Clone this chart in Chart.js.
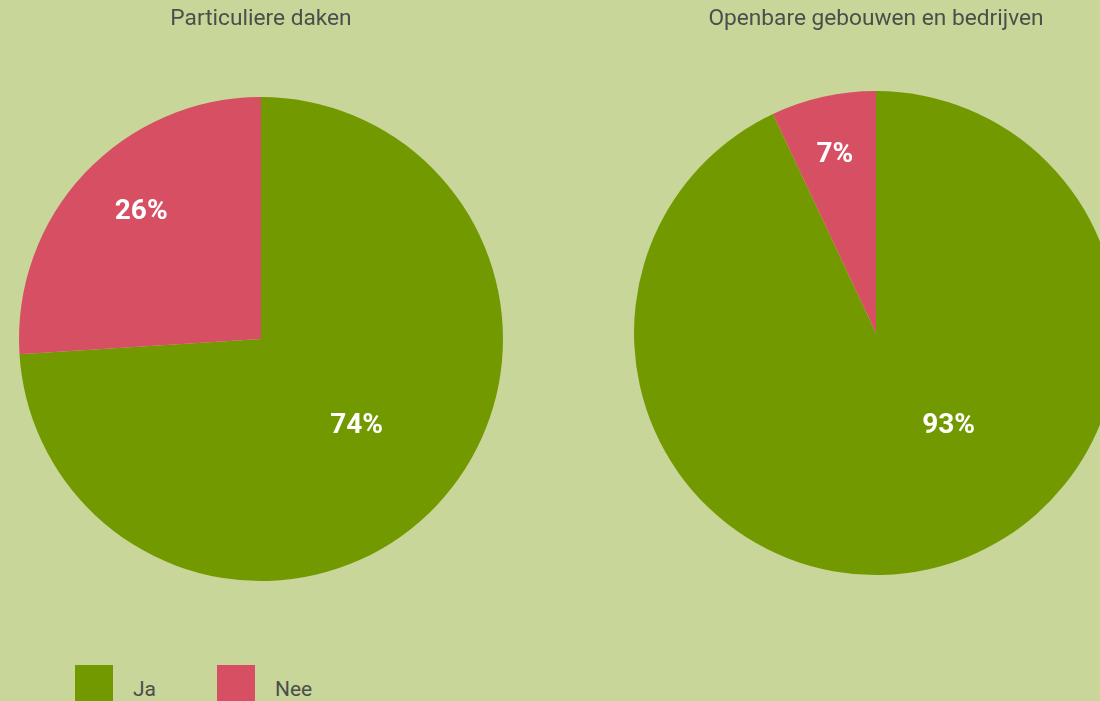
<!DOCTYPE html>
<html>
<head>
<meta charset="utf-8">
<script src="https://cdn.jsdelivr.net/npm/chart.js@4.4.1/dist/chart.umd.min.js"></script>
<style>
  html, body { margin: 0; padding: 0; width: 1100px; height: 701px; overflow: hidden; background: #c8d69a; }
  canvas { position: absolute; }
  #c1 { left: 9px; top: 0; }
  #c2 { left: 634px; top: 0; }
  .legend { position: absolute; top: 665px; left: 75px; font-family: Roboto, sans-serif; font-size: 21px; color: #4b4f4b; }
  .item { position: absolute; top: 0; white-space: nowrap; }
  .swatch { position: absolute; top: 0; width: 38px; height: 38px; }
  .txt { position: absolute; top: 12px; }
</style>
</head>
<body>
<canvas id="c1" width="494" height="581"></canvas>
<canvas id="c2" width="484" height="575"></canvas>
<div class="legend" id="legend"></div>
<script>
// Answer categories shared by both pies
const categories = ['Ja', 'Nee'];
// Share of respondents per group (percent)
const particuliereValues = [74, 26];
const openbareValues = [93, 7];
const chartTitles = ['Particuliere daken', 'Openbare gebouwen en bedrijven'];
const sliceColors = ['#739900', '#d64f63'];

const FONT = 'Roboto, "DejaVu Sans", sans-serif';

// Percentage labels, placed relative to the pie centre in units of the radius
const pctLabels = {
  id: 'pctLabels',
  afterDatasetsDraw(chart, args, opts) {
    const ctx = chart.ctx;
    const meta = chart.getDatasetMeta(0);
    const data = chart.data.datasets[0].data;
    ctx.save();
    ctx.fillStyle = '#ffffff';
    ctx.font = 'bold 28px ' + FONT;
    ctx.textAlign = 'center';
    ctx.textBaseline = 'middle';
    meta.data.forEach((arc, i) => {
      const p = arc.getProps(['x', 'y', 'outerRadius'], true);
      const o = opts.offsets[i];
      ctx.fillText(data[i] + '%', p.x + o[0] * p.outerRadius, p.y + o[1] * p.outerRadius);
    });
    ctx.restore();
  }
};

function makePie(id, values, title, bottomPad, leftPad, offsets) {
  return new Chart(document.getElementById(id), {
    type: 'pie',
    data: {
      labels: categories,
      datasets: [{
        data: values,
        backgroundColor: sliceColors,
        borderWidth: 0
      }]
    },
    options: {
      responsive: false,
      animation: false,
      layout: { padding: { left: leftPad, right: 0, top: 0, bottom: 0 } },
      plugins: {
        legend: { display: false },
        tooltip: { enabled: false },
        title: {
          display: true,
          text: title,
          color: '#4b4f4b',
          font: { family: FONT, size: 22.7, weight: 'normal', lineHeight: 1.2 },
          padding: { top: 6, bottom: bottomPad }
        },
        pctLabels: { offsets: offsets }
      }
    },
    plugins: [pctLabels]
  });
}

makePie('c1', particuliereValues, chartTitles[0], 63.8, 10, [[0.395, 0.36], [-0.495, -0.525]]);
makePie('c2', openbareValues, chartTitles[1], 57.8, 0, [[0.30, 0.384], [-0.17, -0.735]]);

// Legend built from the same categories and colours
const legend = document.getElementById('legend');
categories.forEach((c, i) => {
  const item = document.createElement('div');
  item.className = 'item';
  item.style.left = (i * 142) + 'px';
  const sw = document.createElement('div');
  sw.className = 'swatch';
  sw.style.background = sliceColors[i];
  const t = document.createElement('div');
  t.className = 'txt';
  t.style.left = '58px';
  t.textContent = c;
  item.appendChild(sw);
  item.appendChild(t);
  legend.appendChild(item);
});
</script>
</body>
</html>
